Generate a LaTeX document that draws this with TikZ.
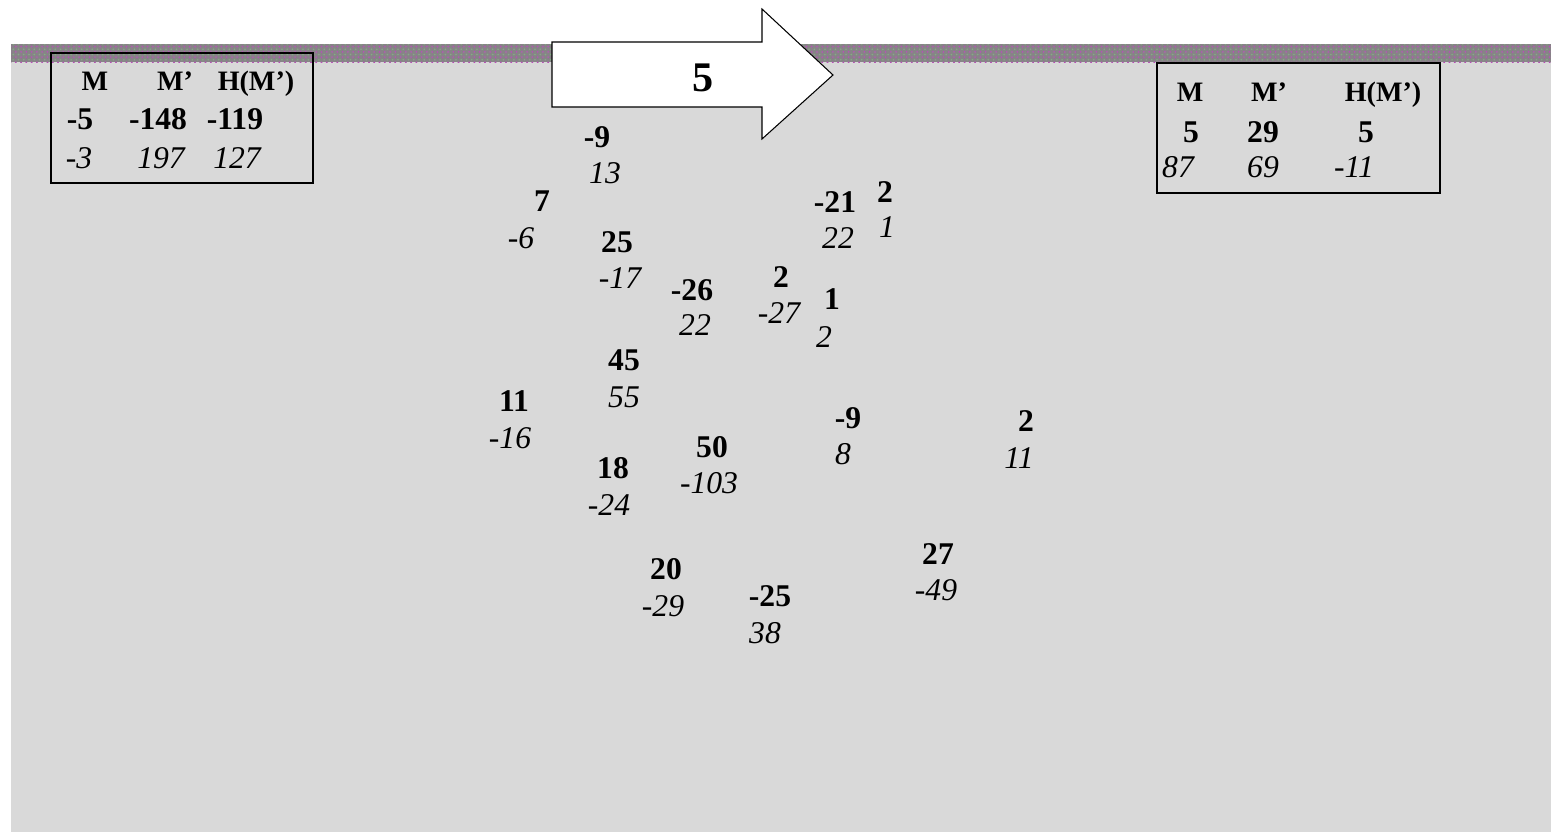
\documentclass[tikz,border=0pt]{standalone}
\usepackage{fontspec}
\setmainfont{Liberation Serif}
\usetikzlibrary{patterns}
\definecolor{panel}{RGB}{217,217,217}
\definecolor{noise}{RGB}{136,130,136}
\tikzset{
  bnum/.style={font=\fontsize{18}{20}\selectfont\bfseries, inner sep=0pt},
  inum/.style={font=\fontsize{18}{20}\selectfont\itshape, inner sep=0pt},
  head/.style={font=\fontsize{16}{18}\selectfont\bfseries, inner sep=0pt,
               text height=10.6pt, text depth=0pt},
  frame/.style={draw=black, line width=0.8pt},
  shiftbox/.style={fill=white, draw=black, line width=0.6pt, line join=miter},
}

\begin{document}
\begin{tikzpicture}[x=0.02cm, y=-0.02cm]
  \useasboundingbox (0,0) rectangle (1551,832);
  % grey panel with the noisy strip on top
  \fill[panel] (11,44) rectangle (1551,832);
  \fill[noise] (11,44) rectangle (1551,62);
  \fill[pattern=crosshatch dots, pattern color=green!40!black!50] (11,44) rectangle (1551,62);
  \fill[pattern=dots, pattern color=magenta!50!gray] (11,44) rectangle (1551,62);

  % left table
  \draw[frame] (51,53) rectangle (313,183);
  \node[head] (lM)  at (95,81)  {M};
  \node[head] (lMp) at (175,81) {M’};
  \node[head] (lH)  at (256,81) {H(M’)};
  \node[bnum] (lb1) at (80,119)  {-5};
  \node[bnum] (lb2) at (158,119) {-148};
  \node[bnum] (lb3) at (235,119) {-119};
  \node[inum] (li1) at (79,158)  {-3};
  \node[inum] (li2) at (161,158) {197};
  \node[inum] (li3) at (237,158) {127};

  % right table
  \draw[frame] (1157,63) rectangle (1440,193);
  \node[head] (rM)  at (1190,92) {M};
  \node[head] (rMp) at (1269,92) {M’};
  \node[head] (rH)  at (1383,92) {H(M’)};
  \node[bnum] (rb1) at (1191,132) {5};
  \node[bnum] (rb2) at (1263,132) {29};
  \node[bnum] (rb3) at (1366,132) {5};
  \node[inum] (ri1) at (1178,167) {87};
  \node[inum] (ri2) at (1263,167) {69};
  \node[inum] (ri3) at (1354,167) {-11};

  % shift arrow
  \draw[shiftbox] (552,42) -- (762,42) -- (762,9) -- (833,75)
    -- (762,139) -- (762,107) -- (552,107) -- cycle;
  \node[font=\fontsize{24}{28}\selectfont\bfseries, inner sep=0pt] (shift) at (703,78) {5};

  % scattered pairs: bold value over italic value
  \node[bnum] (a1) at (597,137) {-9};   \node[inum] (a2) at (605,173) {13};
  \node[bnum] (b1) at (542,201) {7};    \node[inum] (b2) at (521,238) {-6};
  \node[bnum] (c1) at (617,242) {25};   \node[inum] (c2) at (620,278) {-17};
  \node[bnum] (d1) at (692,290) {-26};  \node[inum] (d2) at (695,325) {22};
  \node[bnum] (e1) at (781,277) {2};    \node[inum] (e2) at (779,313) {-27};
  \node[bnum] (f1) at (832,299) {1};    \node[inum] (f2) at (824,337) {2};
  \node[bnum] (g1) at (835,202) {-21};  \node[inum] (g2) at (838,238) {22};
  \node[bnum] (h1) at (885,192) {2};    \node[inum] (h2) at (887,227) {1};
  \node[bnum] (i1) at (624,360) {45};   \node[inum] (i2) at (624,397) {55};
  \node[bnum] (j1) at (514,401) {11};   \node[inum] (j2) at (510,438) {-16};
  \node[bnum] (k1) at (613,468) {18};   \node[inum] (k2) at (609,505) {-24};
  \node[bnum] (l1) at (712,447) {50};   \node[inum] (l2) at (709,483) {-103};
  \node[bnum] (m1) at (848,418) {-9};   \node[inum] (m2) at (843,454) {8};
  \node[bnum] (n1) at (1026,421) {2};   \node[inum] (n2) at (1019,458) {11};
  \node[bnum] (o1) at (666,569) {20};   \node[inum] (o2) at (663,606) {-29};
  \node[bnum] (p1) at (770,596) {-25};  \node[inum] (p2) at (765,633) {38};
  \node[bnum] (q1) at (938,554) {27};   \node[inum] (q2) at (936,590) {-49};
\end{tikzpicture}
\end{document}
